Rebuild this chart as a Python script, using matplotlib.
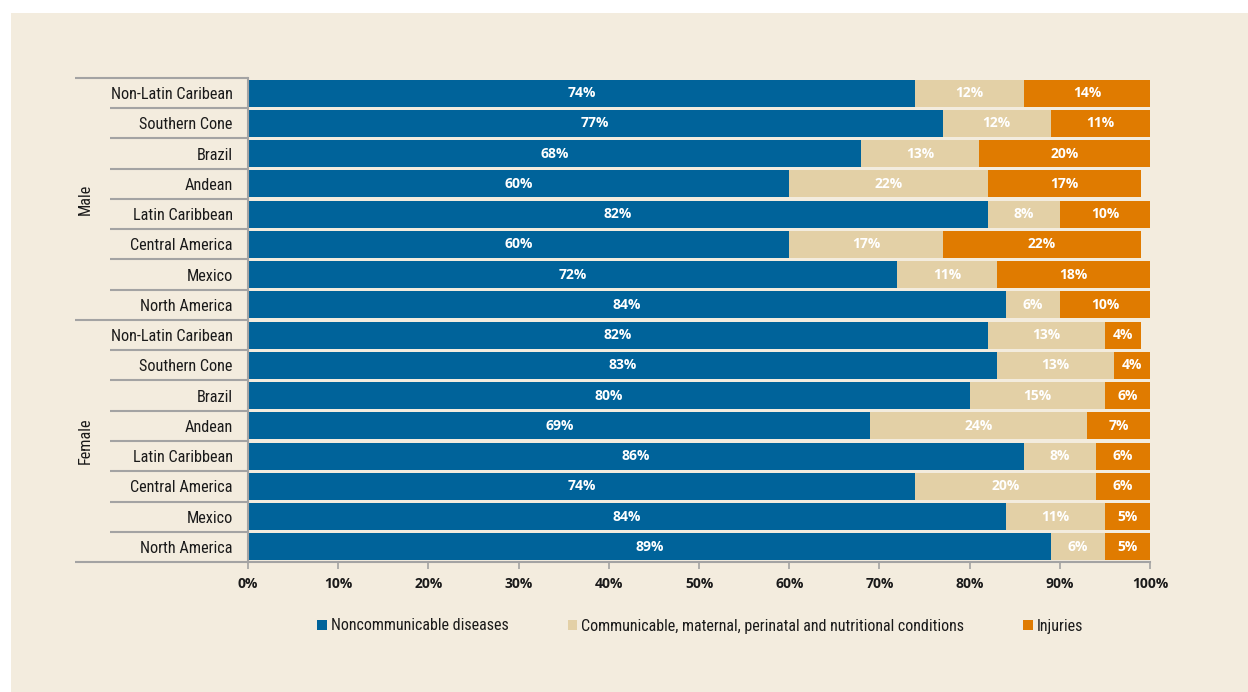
import matplotlib
matplotlib.use("Agg")
import matplotlib.pyplot as plt
from matplotlib.patches import Rectangle, Patch
import matplotlib.transforms as mtransforms
import numpy as np

# Regions, listed top to bottom within each sex group
regions = ["Non-Latin Caribean", "Southern Cone", "Brazil", "Andean",
           "Latin Caribbean", "Central America", "Mexico", "North America"]
groups = ["Male", "Female"]

# Share of deaths (%) by cause group
male_ncd = [74, 77, 68, 60, 82, 60, 72, 84]
male_comm = [12, 12, 13, 22, 8, 17, 11, 6]
male_inj = [14, 11, 20, 17, 10, 22, 18, 10]

female_ncd = [82, 83, 80, 69, 86, 74, 84, 89]
female_comm = [13, 13, 15, 24, 8, 20, 11, 6]
female_inj = [4, 4, 6, 7, 6, 6, 5, 5]

series_names = ["Noncommunicable diseases",
                "Communicable, maternal, perinatal and nutritional conditions",
                "Injuries"]
xticks = [0, 10, 20, 30, 40, 50, 60, 70, 80, 90, 100]

BG = "#f3ecde"
C_NCD = "#00639a"
C_COMM = "#e3d0a6"
C_INJ = "#e07b00"
GRID = "#a3a3a3"

narrow = ["Roboto Condensed", "Liberation Sans Narrow", "Roboto", "DejaVu Sans"]
bold_font = ["Open Sans", "DejaVu Sans"]

fig = plt.figure(figsize=(12.48, 6.92), dpi=100, facecolor="white")
W, H = 1248, 692
fig.patches.append(Rectangle((11 / W, 0), 1 - 11 / W, 1 - 13 / H,
                             transform=fig.transFigure, facecolor=BG,
                             edgecolor="none", zorder=-10))

ax = fig.add_axes([248 / W, 1 - 562 / H, (1150 - 248) / W, (562 - 78) / H])
ax.patch.set_alpha(0)

labels = regions + regions
ncd = np.array(male_ncd + female_ncd, dtype=float)
comm = np.array(male_comm + female_comm, dtype=float)
inj = np.array(male_inj + female_inj, dtype=float)
n = len(labels)
y = np.arange(n)

h = 0.89
ax.barh(y, ncd, height=h, color=C_NCD, edgecolor="none", label=series_names[0])
ax.barh(y, comm, left=ncd, height=h, color=C_COMM, edgecolor="none",
        label=series_names[1])
ax.barh(y, inj, left=ncd + comm, height=h, color=C_INJ, edgecolor="none",
        label=series_names[2])

# Value labels centred in the visible part of each segment
for i in range(n):
    starts = [0, ncd[i], ncd[i] + comm[i]]
    for s, v in zip(starts, [ncd[i], comm[i], inj[i]]):
        cx = (s + min(s + v, 100)) / 2
        ax.text(cx, y[i], f"{int(v)}%", ha="center", va="center",
                color="white", fontsize=10, fontweight="bold",
                family=bold_font)

ax.set_xlim(0, 100)
ax.set_ylim(n - 0.5, -0.5)

ax.set_xticks(xticks)
ax.set_xticklabels([f"{t}%" for t in xticks], fontsize=10,
                   fontweight="bold", family=bold_font, color="#1a1a1a")
ax.tick_params(axis="x", length=5, width=1.2, color=GRID, pad=6)

ax.set_yticks(y)
ax.set_yticklabels(labels, fontsize=11.7, family=narrow, stretch="condensed",
                   color="#1a1a1a")
ax.tick_params(axis="y", length=0, pad=11)

for side in ["top", "right"]:
    ax.spines[side].set_visible(False)
for side in ["left", "bottom"]:
    ax.spines[side].set_color(GRID)
    ax.spines[side].set_linewidth(1.5)

# Row separators on the category axis
trans = mtransforms.blended_transform_factory(ax.transAxes, ax.transData)
for b in np.arange(-0.5, n, 1.0):
    long_line = b in (-0.5, 7.5, n - 0.5)
    x0 = -0.192 if long_line else -0.153
    ax.plot([x0, 0], [b, b], transform=trans, color=GRID, lw=1.5,
            clip_on=False, solid_capstyle="butt")

# Group labels
for gi, g in enumerate(groups):
    ax.text(-0.18, 3.5 + 8 * gi, g, transform=trans, rotation=90,
            ha="center", va="center", fontsize=11.7, family=narrow,
            stretch="condensed", color="#1a1a1a")

handles = [Patch(facecolor=c, edgecolor="none") for c in (C_NCD, C_COMM, C_INJ)]
leg = fig.legend(handles, series_names, loc="center", ncol=3,
                 bbox_to_anchor=(0.561, 1 - 626 / H), frameon=False,
                 prop={"family": narrow, "size": 11.5, "stretch": "condensed"},
                 handlelength=0.6, handleheight=0.6, handletextpad=0.25,
                 columnspacing=3.7)
for t in leg.get_texts():
    t.set_color("#1a1a1a")

fig.savefig("out.png", dpi=100, facecolor=fig.get_facecolor())
